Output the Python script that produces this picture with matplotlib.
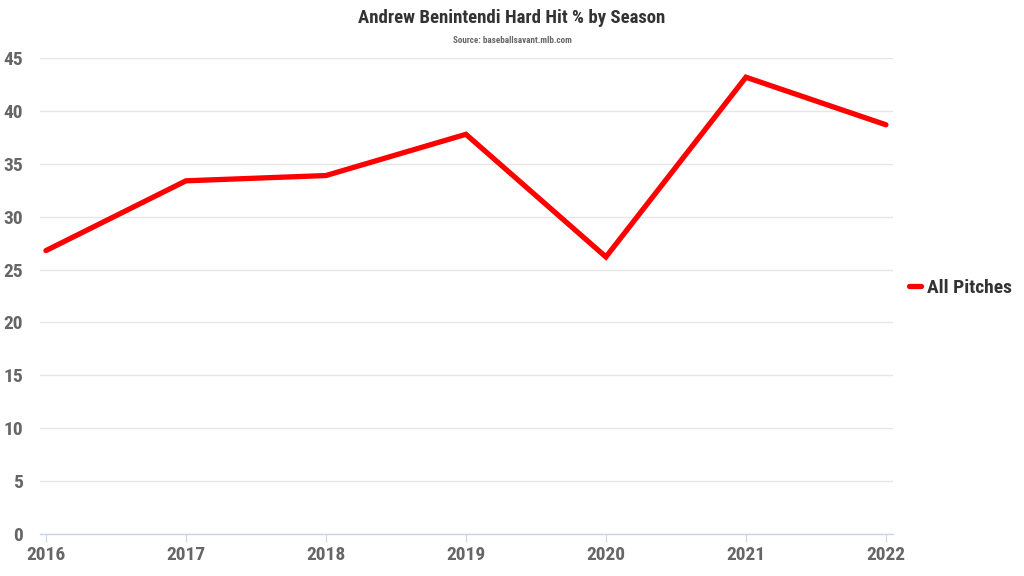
import matplotlib
matplotlib.use('Agg')
import matplotlib.pyplot as plt
from matplotlib import font_manager

names = {f.name for f in font_manager.fontManager.ttflist}
family = 'Roboto'
for cand in ['Roboto Condensed', 'Liberation Sans Narrow', 'Open Sans Condensed']:
    if cand in names:
        family = cand
        break
condensed = family != 'Roboto'
plt.rcParams['font.family'] = [family, 'DejaVu Sans']

# Data
seasons = [2016, 2017, 2018, 2019, 2020, 2021, 2022]
hard_hit = [26.8, 33.4, 33.9, 37.8, 26.2, 43.2, 38.7]
y_ticks = [0, 5, 10, 15, 20, 25, 30, 35, 40, 45]

tick_size = 14 if condensed else 12.5
leg_size = 14 if condensed else 12
title_size = 13.5 if condensed else 12.5

fig = plt.figure(figsize=(10.24, 5.76), dpi=100)
ax = fig.add_axes([0.039, 0.073, 0.833, 0.826])

ax.plot(seasons, hard_hit, color='#ff0000', lw=3.8, solid_capstyle='round',
        solid_joinstyle='miter', label='All Pitches', zorder=3)

ax.set_ylim(0, 45)
ax.set_xlim(2016 - 6 / 140, 2022 + 7 / 140)
ax.set_yticks(y_ticks)
ax.set_xticks(seasons)
ax.set_xticklabels([str(s) for s in seasons])
ax.grid(axis='y', color='#e6e6e6', lw=1)
ax.set_axisbelow(True)

for s in ['top', 'right', 'left']:
    ax.spines[s].set_visible(False)
ax.spines['bottom'].set_color('#ccd6eb')
ax.spines['bottom'].set_linewidth(1)
ax.tick_params(axis='y', length=0, pad=12, labelsize=tick_size, labelcolor='#666666')
ax.tick_params(axis='x', length=6, color='#ccd6eb', pad=3, labelsize=tick_size,
               labelcolor='#666666')
for lab in ax.get_xticklabels() + ax.get_yticklabels():
    lab.set_fontweight('bold')

fig.text(0.5, 0.968, 'Andrew Benintendi Hard Hit % by Season', ha='center',
         va='center', fontsize=title_size, fontweight='bold', color='#333333')
fig.text(0.5, 0.930, 'Source: baseballsavant.mlb.com', ha='center', va='center',
         fontsize=6.5, fontweight='bold', color='#666666')

leg = fig.legend(loc='center left', bbox_to_anchor=(0.888, 0.5), frameon=False,
                 handlelength=0.6, handletextpad=0.3, borderaxespad=0,
                 borderpad=0, prop={'weight': 'bold', 'size': leg_size})
for t in leg.get_texts():
    t.set_color('#333333')

fig.savefig('out.png', dpi=100)
